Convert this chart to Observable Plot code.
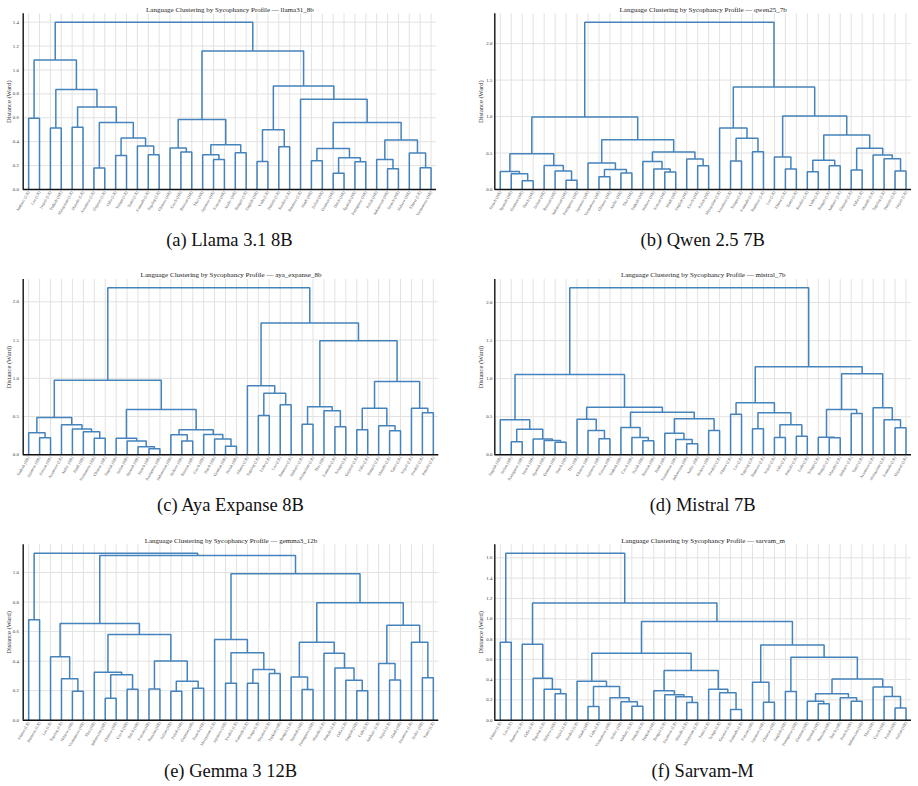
<!DOCTYPE html>
<html><head><meta charset="utf-8">
<script src="https://cdn.jsdelivr.net/npm/d3@7"></script>
<script src="https://cdn.jsdelivr.net/npm/@observablehq/plot@0.6"></script>
<style>
html,body{margin:0;padding:0;background:#fff;}
#root{position:relative;width:918px;height:786px;overflow:hidden;background:#fff;}
.pan{position:absolute;}
.cap{position:absolute;width:300px;text-align:center;font-family:"Liberation Serif","Times New Roman",serif;font-size:18.5px;color:#111;line-height:1;}
</style></head>
<body><div id="root"></div>
<script>
// ---------- data ----------
const labelsA = ["Amharic (LR)","Lao (LR)","Nepali (LR)","Turkish (HR)","Malayalam (LR)","Marathi (LR)","Assamese (LR)","Gujarati (LR)","Odia (LR)","Telugu (LR)","Tamil (LR)","Kannada (LR)","Tagalog (LR)","Chinese (HR)","Czech (HR)","Russian (HR)","Thai (HR)","Japanese (HR)","Korean (HR)","Arabic (HR)","Bengali (LR)","English (HR)","Urdu (LR)","Punjabi (LR)","Swahili (LR)","Burmese (LR)","Hindi (HR)","Italian (HR)","German (HR)","Dutch (HR)","Spanish (HR)","Portuguese (HR)","Polish (HR)","Indonesian (HR)","French (HR)","Hebrew (HR)","Khmer (LR)","Vietnamese (HR)"];
const treeA = [1.40,
  [1.084, [0.596, 0, 1],
    [0.837, [0.515, 2, 3],
      [0.69, [0.52, 4, 5],
        [0.56, [0.18, 6, 7],
          [0.43, [0.285, 8, 9], [0.364, 10, [0.29, 11, 12]]]]]]],
  [1.159,
    [0.585, [0.347, 13, [0.314, 14, 15]], [0.375, [0.29, 16, [0.25, 17, 18]], [0.308, 19, 20]]],
    [0.865, [0.50, [0.235, 21, 22], [0.358, 23, 24]],
      [0.756, 25, [0.56, [0.342, [0.24, 26, 27], [0.266, [0.137, 28, 29], [0.232, 30, 31]]],
                        [0.414, [0.252, 32, [0.174, 33, 34]], [0.305, 35, [0.182, 36, 37]]]]]]]];
const yTicksA = [0, 0.2, 0.4, 0.6, 0.8, 1.0, 1.2, 1.4];

const labelsB = ["French (HR)","Spanish (HR)","German (HR)","Dutch (HR)","Italian (HR)","Russian (HR)","Indonesian (HR)","Portuguese (HR)","Japanese (HR)","Vietnamese (HR)","Chinese (HR)","Arabic (HR)","Thai (HR)","Turkish (HR)","Hebrew (HR)","Korean (HR)","Hindi (HR)","English (HR)","Czech (HR)","Polish (HR)","Malayalam (LR)","Assamese (LR)","Telugu (LR)","Kannada (LR)","Burmese (LR)","Lao (LR)","Khmer (LR)","Tamil (LR)","Swahili (LR)","Urdu (LR)","Bengali (LR)","Amharic (LR)","Gujarati (LR)","Odia (LR)","Marathi (LR)","Tagalog (LR)","Punjabi (LR)","Nepali (LR)"];
const treeB = [2.294,
  [0.995,
    [0.49, [0.248, 0, [0.216, 1, [0.119, 2, 3]]], [0.33, 4, [0.252, 5, [0.128, 6, 7]]]],
    [0.683, [0.362, 8, [0.275, [0.174, 9, 10], [0.225, 11, 12]]],
      [0.514, [0.385, 13, [0.28, 14, [0.239, 15, 16]]], [0.417, 17, [0.326, 18, 19]]]]],
  [1.404,
    [0.844, 20, [0.702, [0.39, 21, 22], [0.518, 23, 24]]],
    [1.009, [0.445, 25, [0.28, 26, 27]],
      [0.748, [0.40, [0.243, 28, 29], [0.326, 30, 31]],
        [0.564, [0.266, 32, 33], [0.472, 34, [0.422, 35, [0.252, 36, 37]]]]]]]];
const yTicksB = [0, 0.5, 1.0, 1.5, 2.0];

const labelsC = ["Turkish (HR)","Japanese (HR)","Korean (HR)","Assamese (LR)","Arabic (HR)","Hindi (HR)","Vietnamese (HR)","Chinese (HR)","English (HR)","Italian (HR)","Spanish (HR)","French (HR)","Portuguese (HR)","Indonesian (HR)","Hebrew (HR)","Russian (HR)","Czech (HR)","Dutch (HR)","German (HR)","Polish (HR)","Khmer (LR)","Tagalog (LR)","Urdu (LR)","Lao (LR)","Burmese (LR)","Amharic (LR)","Malayalam (LR)","Thai (HR)","Kannada (LR)","Telugu (LR)","Gujarati (LR)","Odia (LR)","Bengali (LR)","Marathi (LR)","Tamil (LR)","Nepali (LR)","Swahili (LR)","Punjabi (LR)"];
const treeC = [2.183,
  [0.976,
    [0.488, [0.288, 0, [0.222, 1, 2]], [0.392, 3, [0.336, 4, [0.30, 5, [0.218, 6, 7]]]]],
    [0.593, [0.218, 8, [0.179, 9, [0.105, 10, [0.078, 11, 12]]]],
      [0.327, [0.261, 13, [0.179, 14, 15]], [0.266, 16, [0.205, 17, [0.113, 18, 19]]]]]],
  [1.725,
    [0.902, 20, [0.806, [0.514, 21, 22], [0.654, 23, 24]]],
    [1.49, [0.627, [0.40, 25, 26], [0.575, 27, [0.366, 28, 29]]],
      [0.959, [0.61, [0.327, 30, 31], [0.379, 32, [0.314, 33, 34]]], [0.61, 35, [0.549, 36, 37]]]]]];
const yTicksC = [0, 0.5, 1.0, 1.5, 2.0];

const labelsD = ["English (HR)","Italian (HR)","Portuguese (HR)","French (HR)","Spanish (HR)","German (HR)","Dutch (HR)","Thai (HR)","Chinese (HR)","Japanese (HR)","Korean (HR)","Turkish (HR)","Czech (HR)","Polish (HR)","Russian (HR)","Hindi (HR)","Vietnamese (HR)","Indonesian (HR)","Arabic (HR)","Hebrew (HR)","Swahili (LR)","Khmer (LR)","Lao (LR)","Tagalog (LR)","Burmese (LR)","Nepali (LR)","Odia (LR)","Punjabi (LR)","Urdu (LR)","Telugu (LR)","Bengali (LR)","Marathi (LR)","Amharic (LR)","Tamil (LR)","Assamese (LR)","Malayalam (LR)","Kannada (LR)","Gujarati (LR)"];
const treeD = [2.193,
  [1.055,
    [0.46, 0, [0.337, [0.171, 1, 2], [0.206, 3, [0.188, 4, [0.166, 5, 6]]]]],
    [0.626, [0.468, 7, [0.32, 8, [0.21, 9, 10]]],
      [0.56, [0.359, 11, [0.228, 12, [0.184, 13, 14]]],
        [0.473, [0.284, 15, [0.2, 16, [0.144, 17, 18]]], [0.32, 19, 20]]]]],
  [1.155,
    [0.683, [0.534, 21, 22], [0.551, [0.341, 23, 24], [0.394, [0.228, 25, 26], [0.245, 27, 28]]]],
    [1.063, [0.595, [0.232, 29, [0.223, 30, 31]], [0.543, 32, 33]],
      [0.617, 34, [0.46, 35, [0.354, 36, 37]]]]]];
const yTicksD = [0, 0.5, 1.0, 1.5, 2.0];

const labelsE = ["Khmer (LR)","Burmese (LR)","Lao (LR)","Tagalog (LR)","Hebrew (HR)","Vietnamese (HR)","Thai (HR)","Indonesian (HR)","Chinese (HR)","Czech (HR)","Dutch (HR)","Korean (HR)","Russian (HR)","Italian (HR)","Polish (HR)","German (HR)","French (HR)","Malayalam (LR)","Japanese (HR)","Swahili (LR)","Kannada (LR)","Telugu (LR)","Gujarati (LR)","Turkish (HR)","Bengali (LR)","Spanish (HR)","Portuguese (HR)","Marathi (LR)","Punjabi (LR)","Odia (LR)","English (HR)","Urdu (LR)","Amharic (LR)","Nepali (LR)","Hindi (HR)","Assamese (LR)","Arabic (HR)","Tamil (LR)"];
const treeE = [1.131, [0.68, 0, 1],
  [1.115,
    [0.655, [0.429, 2, [0.28, 3, [0.196, 4, 5]]],
      [0.58, [0.325, 6, [0.307, [0.149, 7, 8], [0.21, 9, 10]]],
        [0.40, [0.212, 11, 12], [0.264, [0.196, 13, 14], [0.217, 15, 16]]]]],
    [0.991,
      [0.546, 17, [0.456, [0.25, 18, 19], [0.343, [0.25, 20, 21], [0.316, 22, 23]]]],
      [0.795,
        [0.528, [0.293, 24, [0.208, 25, 26]], [0.454, 27, [0.354, 28, [0.271, 29, [0.199, 30, 31]]]]],
        [0.643, [0.384, 32, [0.273, 33, 34]], [0.528, 35, [0.287, 36, 37]]]]]]];
const yTicksE = [0, 0.2, 0.4, 0.6, 0.8, 1.0];

const labelsF = ["Khmer (LR)","Lao (LR)","Burmese (LR)","Odia (LR)","Tagalog (LR)","Hebrew (HR)","Nepali (LR)","Swahili (LR)","Hindi (HR)","Urdu (LR)","Vietnamese (HR)","Arabic (HR)","Amharic (LR)","Punjabi (LR)","Turkish (HR)","Bengali (LR)","Assamese (LR)","Marathi (LR)","Malayalam (LR)","Tamil (LR)","Telugu (LR)","Gujarati (LR)","Kannada (LR)","Korean (HR)","Japanese (HR)","Chinese (HR)","English (HR)","Portuguese (HR)","German (HR)","Spanish (HR)","Russian (HR)","Dutch (HR)","French (HR)","Indonesian (HR)","Thai (HR)","Czech (HR)","Polish (HR)","Italian (HR)"];
const treeF = [1.646, [0.769, 0, 1],
  [1.156,
    [0.749, 2, [0.414, 3, [0.306, 4, [0.26, 5, 6]]]],
    [0.972,
      [0.66,
        [0.384, 7, [0.332, [0.135, 8, 9], [0.22, 10, [0.181, 11, [0.138, 12, 13]]]]],
        [0.489, [0.289, 14, [0.25, 15, [0.23, 16, [0.174, 17, 18]]]], [0.306, 19, [0.27, 20, [0.105, 21, 22]]]]],
      [0.742, [0.375, 23, [0.177, 24, 25]],
        [0.621, [0.283, 26, 27],
          [0.407, [0.26, [0.187, 28, [0.161, 29, 30]], [0.22, 31, [0.187, 32, 33]]],
            [0.328, 34, [0.233, 35, [0.12, 36, 37]]]]]]]]];
const yTicksF = [0, 0.2, 0.4, 0.6, 0.8, 1.0, 1.2, 1.4, 1.6];

const modelIds = ["llama31_8b", "qwen25_7b", "aya_expanse_8b", "mistral_7b", "gemma3_12b", "sarvam_m"];
const captions = ["(a) Llama 3.1 8B", "(b) Qwen 2.5 7B", "(c) Aya Expanse 8B", "(d) Mistral 7B", "(e) Gemma 3 12B", "(f) Sarvam-M"];

// ---------- layout ----------
const panels = [
  {labels: labelsA, tree: treeA, yTicks: yTicksA, left: 0,   top: 0,   mL: 22.7, mR: 23,   mT: 13.3, mB: 43,   pad: 4.4, capY: 240},
  {labels: labelsB, tree: treeB, yTicks: yTicksB, left: 459, top: 0,   mL: 35.3, mR: 7,    mT: 13.3, mB: 43,   pad: 2.5, capY: 240},
  {labels: labelsC, tree: treeC, yTicks: yTicksC, left: 0,   top: 265, mL: 22.7, mR: 20.7, mT: 14,   mB: 42.7, pad: 4.4, capY: 505},
  {labels: labelsD, tree: treeD, yTicks: yTicksD, left: 459, top: 265, mL: 35.3, mR: 7,    mT: 14,   mB: 42.7, pad: 2.5, capY: 505},
  {labels: labelsE, tree: treeE, yTicks: yTicksE, left: 0,   top: 530, mL: 22.7, mR: 20.7, mT: 14.3, mB: 42.3, pad: 4.4, capY: 771},
  {labels: labelsF, tree: treeF, yTicks: yTicksF, left: 459, top: 530, mL: 35.3, mR: 7,    mT: 14.3, mB: 42.3, pad: 2.5, capY: 771}
];
const W = 459, H = 232;
const LINE = "#4483bc", GRID = "#e2e2e2", FONT = "Liberation Serif";

function segments(tree) {
  const out = [];
  let id = 0;
  (function walk(node) {
    if (typeof node === "number") return {x: node + 0.5, h: 0};
    const [h, l, r] = node;
    const a = walk(l), b = walk(r);
    const k = id++;
    out.push({k, x: a.x, y: a.h}, {k, x: a.x, y: h}, {k, x: b.x, y: h}, {k, x: b.x, y: b.h});
    return {x: (a.x + b.x) / 2, h};
  })(tree);
  return out;
}

const root = document.getElementById("root");
panels.forEach((p, i) => {
  const n = p.labels.length;
  const xs = d3.range(n).map(j => j + 0.5);
  const segs = segments(p.tree);
  const top = p.tree[0];
  const chart = Plot.plot({
    width: W, height: H,
    marginLeft: p.mL, marginRight: p.mR, marginTop: p.mT, marginBottom: p.mB,
    style: {fontFamily: FONT, background: "transparent", color: "#222"},
    x: {domain: [0, n], axis: null},
    y: {domain: [0, top * 1.05], axis: null},
    marks: [
      Plot.gridX(xs, {stroke: GRID, strokeOpacity: 1, strokeWidth: 1}),
      Plot.gridY(p.yTicks, {stroke: GRID, strokeOpacity: 1, strokeWidth: 1}),
      Plot.line(segs, {x: "x", y: "y", z: "k", stroke: LINE, strokeWidth: 1.5, strokeLinejoin: "miter", strokeLinecap: "butt"}),
      Plot.axisY(p.yTicks, {tickSize: 0, tickPadding: p.pad, tickFormat: d3.format(".1f"), fontSize: 4.8, label: null, fill: "#333"}),
      Plot.axisX(xs, {tickSize: 0, tickPadding: 2, tickRotate: -60, tickFormat: d => p.labels[Math.round(d - 0.5)], fontSize: 4, label: null, fill: "#555"}),
      Plot.ruleY([0], {stroke: "#111", strokeWidth: 1.4}),
      Plot.ruleX([0], {stroke: "#111", strokeWidth: 1.4}),
      Plot.text(["Distance (Ward)"], {frameAnchor: "left", rotate: -90, dx: -14.3, textAnchor: "middle", lineAnchor: "middle", fontSize: 6.5, fill: "#333"}),
      Plot.text([`Language Clustering by Sycophancy Profile — ${modelIds[i]}`], {frameAnchor: "top", dy: -4.3, lineAnchor: "middle", fontSize: 7, fill: "#222"})
    ]
  });
  chart.classList.add("pan");
  chart.style.left = p.left + "px";
  chart.style.top = p.top + "px";
  root.appendChild(chart);
  const cap = document.createElement("div");
  cap.className = "cap";
  cap.textContent = captions[i];
  const cx = p.left + p.mL + (W - p.mL - p.mR) / 2;
  cap.style.left = (cx - 150) + "px";
  cap.style.top = (p.capY - 9.5) + "px";
  root.appendChild(cap);
});
</script>
</body></html>
